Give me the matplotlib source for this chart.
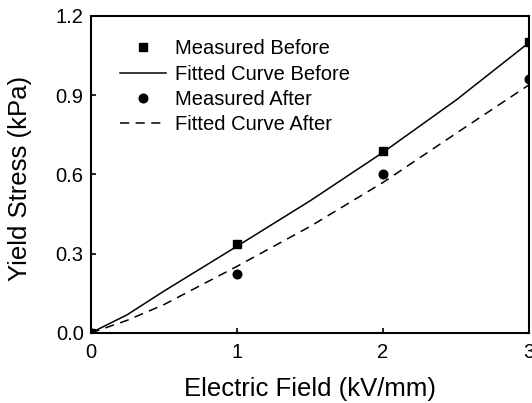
import matplotlib
matplotlib.use("Agg")
import matplotlib.pyplot as plt

plt.rcParams['font.family'] = ['Liberation Sans', 'DejaVu Sans']

# Measured data
field_measured = [0, 1, 2, 3]
before_measured = [0.0, 0.337, 0.690, 1.103]
after_measured = [0.0, 0.224, 0.603, 0.960]

# Fitted curves
field_fit = [0, 0.25, 0.5, 1.0, 1.5, 2.0, 2.5, 3.0]
before_fit = [0.0, 0.069, 0.158, 0.328, 0.500, 0.684, 0.882, 1.100]
after_fit = [0.0, 0.048, 0.107, 0.252, 0.403, 0.570, 0.756, 0.940]

xticks = [0, 1, 2, 3]
yticks = [0.0, 0.3, 0.6, 0.9, 1.2]
ytick_labels = ["0.0", "0.3", "0.6", "0.9", "1.2"]

fig = plt.figure(figsize=(5.32, 4.03), dpi=100)
ax = fig.add_axes([0.1703, 0.1737, 0.8246, 0.7866])

ax.plot(field_measured, before_measured, 's', color='black', markersize=5.8,
        label='Measured Before', zorder=3)
ax.plot(field_fit, before_fit, '-', color='black', linewidth=1.1,
        label='Fitted Curve Before')
ax.plot(field_measured, after_measured, 'o', color='black', markersize=6.2,
        label='Measured After', zorder=3)
ax.plot(field_fit, after_fit, '--', color='black', linewidth=1.1,
        dashes=(6, 4.2), label='Fitted Curve After')

ax.set_xlim(0, 3)
ax.set_ylim(0, 1.2)
ax.set_xticks(xticks)
ax.set_yticks(yticks)
ax.set_yticklabels(ytick_labels)

for s in ax.spines.values():
    s.set_linewidth(1.5)
ax.tick_params(direction='in', length=3.5, width=1.2, labelsize=14.5,
               top=False, right=False)
ax.tick_params(axis='x', pad=7)
ax.tick_params(axis='y', pad=5)

ax.set_xlabel('Electric Field (kV/mm)', fontsize=18.5, va='baseline')
ax.set_ylabel('Yield Stress (kPa)', fontsize=18.5, va='center')
ax.xaxis.set_label_coords(0.5, -0.198)
ax.yaxis.set_label_coords(-0.161, 0.486)

leg = ax.legend(loc='upper left', bbox_to_anchor=(0.067, 0.927), frameon=False,
                fontsize=14.5, handlelength=2.3, handletextpad=0.45,
                labelspacing=0.32, borderpad=0, borderaxespad=0)

fig.savefig('out.png', dpi=100)
